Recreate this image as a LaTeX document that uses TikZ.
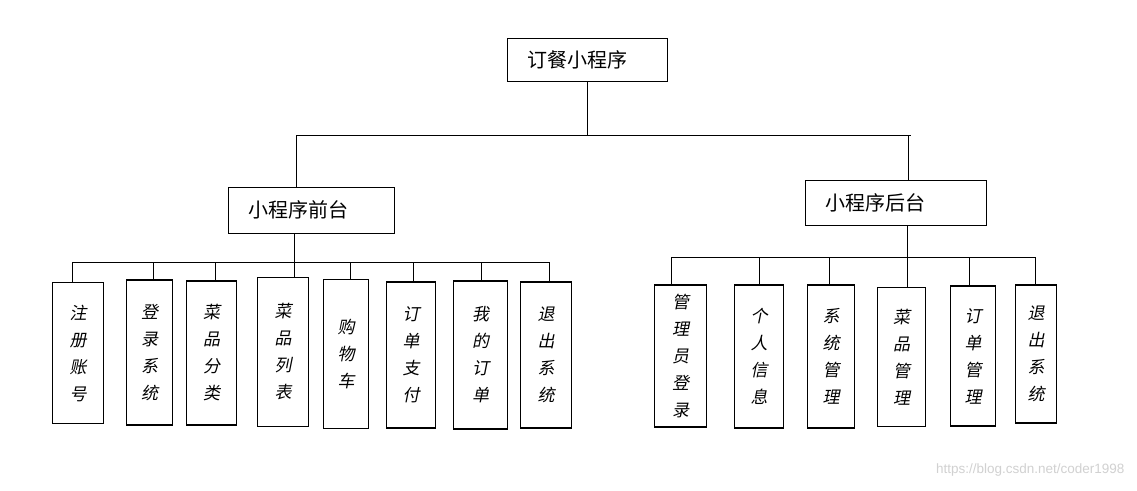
\documentclass[tikz,border=0pt]{standalone}
\usepackage{fontspec}
\newfontfamily\cjk{Noto Sans CJK SC}
\newfontfamily\cjkit[FakeSlant=0.2]{Noto Sans CJK SC}
\newfontfamily\wmfont{Liberation Sans}
\usepackage{tikz}
\usetikzlibrary{calc}

\tikzset{
  head/.style={draw, line width=0.9pt, inner xsep=20pt, inner ysep=0pt, align=left,
    font=\cjk\fontsize{20}{24}\selectfont},
  leaf/.style={draw, line width=1.3pt, inner sep=0pt, align=center,
    font=\cjkit\fontsize{17}{27}\selectfont},
  link/.style={line width=0.9pt}
}

\begin{document}
\begin{tikzpicture}[x=1pt, y=-1pt]
      \useasboundingbox[fill=white] (0,0) rectangle (1137,490);

      % top level
      \node[head, text width=120pt, minimum height=43pt] (root) at (587,59.5) {订餐小程序};
      \node[head, text width=126pt, minimum height=46pt] (front) at (311,210) {小程序前台};
      \node[head, text width=141pt, minimum height=45pt] (back) at (895.5,202.5) {小程序后台};

      \coordinate (busT) at (587,135);
      \coordinate (busTl) at (296,135);
      \coordinate (busTr) at (911,135);
      \coordinate (backT) at (908,135);
      \draw[link] (root.south) -- (busT);
      \draw[link] (busTl) -- (busTr);
      \draw[link] (busTl) -- (busTl |- front.north);
      \draw[link] (backT) -- (backT |- back.north);

      % front end modules
      \node[leaf, minimum width=51pt, minimum height=141pt] (f1) at (78,353) {注\\册\\账\\号};
      \node[leaf, minimum width=46pt, minimum height=145pt] (f2) at (149.5,352.5) {登\\录\\系\\统};
      \node[leaf, minimum width=50.5pt, minimum height=144pt] (f3) at (211.5,353) {菜\\品\\分\\类};
      \node[leaf, minimum width=51pt, minimum height=149pt] (f4) at (283,352) {菜\\品\\列\\表};
      \node[leaf, minimum width=45pt, minimum height=149pt] (f5) at (346,354) {购\\物\\车};
      \node[leaf, minimum width=49.5pt, minimum height=146pt] (f6) at (411,355) {订\\单\\支\\付};
      \node[leaf, minimum width=54pt, minimum height=148pt] (f7) at (480.5,355) {我\\的\\订\\单};
      \node[leaf, minimum width=51.5pt, minimum height=146pt] (f8) at (546,355) {退\\出\\系\\统};

      \coordinate (fbus) at (294,262);
      \coordinate (fbusL) at (72,262);
      \coordinate (fbusR) at (549.5,262);
      \draw[link] (fbus |- front.south) -- (fbus |- f4.north);
      \draw[link] (fbusL) -- (fbusR);
      \foreach \n/\x in {f1/72, f2/153, f3/215, f5/350.5, f6/413, f7/481, f8/549.5}
        \draw[link] (\x,262) -- (\x,262 |- \n.north);

      % back end modules
      \node[leaf, minimum width=52pt, minimum height=142pt] (b1) at (680.5,356) {管\\理\\员\\登\\录};
      \node[leaf, minimum width=49pt, minimum height=143pt] (b2) at (759,356.5) {个\\人\\信\\息};
      \node[leaf, minimum width=47pt, minimum height=143pt] (b3) at (831,356.5) {系\\统\\管\\理};
      \node[leaf, minimum width=48pt, minimum height=139pt] (b4) at (901.5,357) {菜\\品\\管\\理};
      \node[leaf, minimum width=45pt, minimum height=140pt] (b5) at (973,356) {订\\单\\管\\理};
      \node[leaf, minimum width=41pt, minimum height=138pt] (b6) at (1036,354) {退\\出\\系\\统};

      \coordinate (bbus) at (907,257);
      \coordinate (bbusL) at (671,257);
      \coordinate (bbusR) at (1035,257);
      \draw[link] (bbus |- back.south) -- (bbus |- b4.north);
      \draw[link] (bbusL) -- (bbusR);
      \foreach \n/\x in {b1/671, b2/759, b3/829, b5/969, b6/1035}
        \draw[link] (\x,257) -- (\x,257 |- \n.north);

      \node[text=black!18, font=\wmfont\fontsize{13.5}{15}\selectfont, anchor=east] (wm) at (1128,470) {https://blog.csdn.net/coder1998};
\end{tikzpicture}
\end{document}
